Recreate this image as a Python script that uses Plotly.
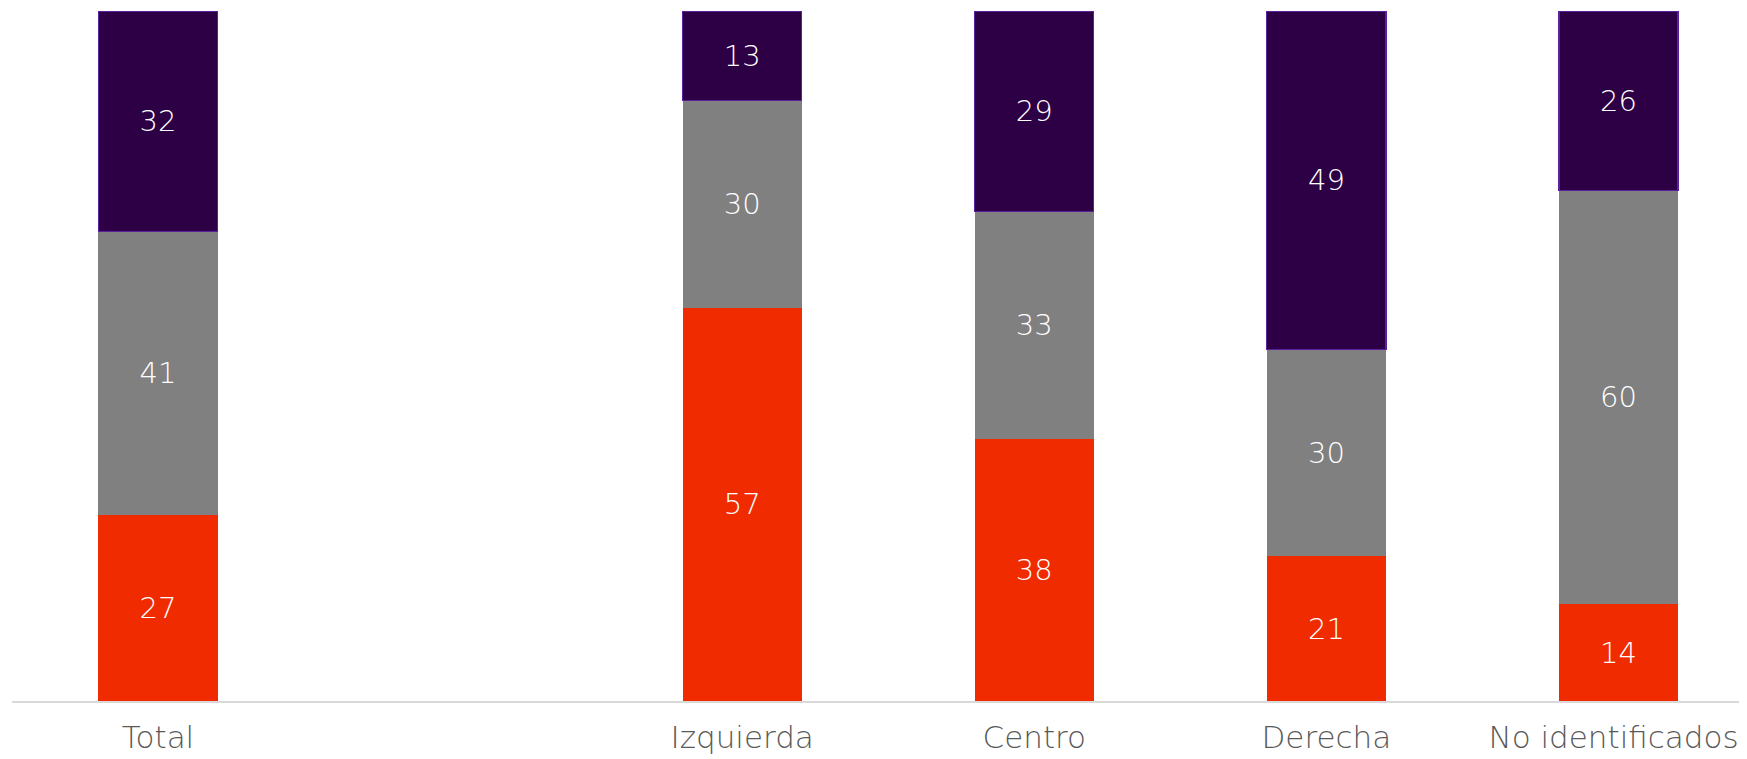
import plotly.graph_objects as go

categories = ["Total", " ", "Izquierda", "Centro", "Derecha", "No identificados"]
tick_labels = ["Total", "", "Izquierda", "Centro", "Derecha", "No identificados\u00a0"]
red_vals = [27, None, 57, 38, 21, 14]
gray_vals = [41, None, 30, 33, 30, 60]
purple_vals = [32, None, 13, 29, 49, 26]

series = [
    ("Rojo", red_vals, "#F02B00", 0, "#F02B00"),
    ("Gris", gray_vals, "#808080", 0, "#808080"),
    ("Morado", purple_vals, "#2D0045", 1.2, "#5B1FA0"),
]

FONT = "'DejaVu Sans', 'Open Sans', sans-serif"

fig = go.Figure()
for name, vals, color, lw, lc in series:
    fig.add_trace(go.Bar(
        x=categories,
        y=vals,
        name=name,
        marker=dict(color=color, line=dict(width=lw, color=lc)),
        text=[("" if v is None else str(v)) for v in vals],
        textposition="inside",
        insidetextanchor="middle",
        textangle=0,
        textfont=dict(color="white", size=29, family=FONT, weight=200),
        width=0.408,
        hoverinfo="skip",
    ))

fig.update_layout(
    barmode="stack",
    width=1747,
    height=759,
    margin=dict(l=4, r=8, t=3, b=66),
    plot_bgcolor="white",
    paper_bgcolor="white",
    showlegend=False,
    uniformtext=dict(minsize=29, mode="show"),
    font=dict(family=FONT),
)
fig.update_xaxes(
    type="category",
    range=[-0.5, 5.44],
    tickmode="array",
    tickvals=categories,
    ticktext=tick_labels,
    showline=True,
    linecolor="#D9D9D9",
    linewidth=2,
    showgrid=False,
    ticks="",
    ticklabelstandoff=8,
    tickfont=dict(size=31, color="#595959", family=FONT, weight=200),
    automargin=False,
)
fig.update_yaxes(
    range=[0, 100],
    showgrid=False,
    showticklabels=False,
    zeroline=False,
    showline=False,
    automargin=False,
)

fig.write_html("out.html")
